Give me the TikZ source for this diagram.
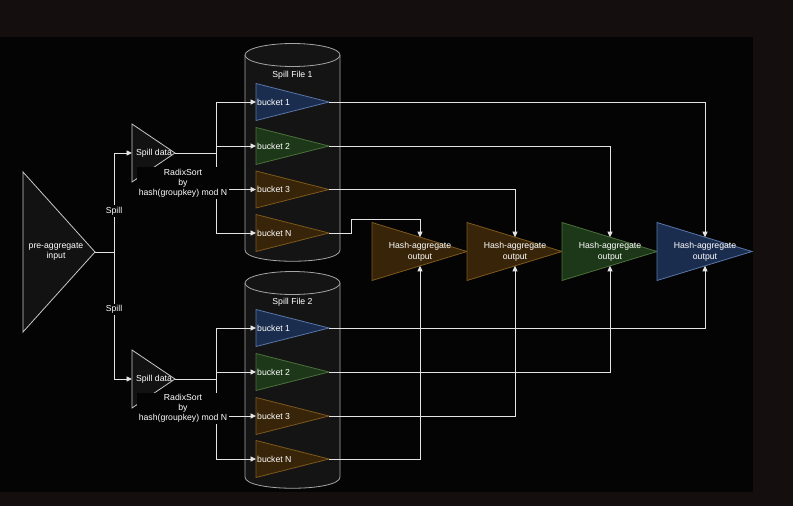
\documentclass[tikz,border=0pt]{standalone}
\usepackage{fontspec}
\setmainfont{Liberation Sans}
\usetikzlibrary{arrows.meta}

\definecolor{outerbg}{RGB}{20,15,14}
\definecolor{innerbg}{RGB}{4,4,4}
\definecolor{ln}{RGB}{228,228,228}
\definecolor{greyfill}{RGB}{18,18,18}
\definecolor{greyline}{RGB}{200,200,200}
\definecolor{cylfill}{RGB}{20,20,20}
\definecolor{cylline}{RGB}{165,165,165}
\definecolor{bluefill}{RGB}{27,45,78}
\definecolor{blueline}{RGB}{88,118,168}
\definecolor{greenfill}{RGB}{28,56,24}
\definecolor{greenline}{RGB}{75,112,58}
\definecolor{orangefill}{RGB}{56,36,8}
\definecolor{orangeline}{RGB}{125,88,28}

\newcommand\mytri[6]{% name, x, y, w, h, style
  \filldraw[#6] (#2,#3-#5/2) -- (#2+#4,#3) -- (#2,#3+#5/2) -- cycle;
  \coordinate (#1w) at (#2,#3);
  \coordinate (#1e) at (#2+#4,#3);
}
\newcommand\mycyl[4]{% x left, x right, y top centre, y bottom centre
  \fill[cylfill] (#1,#3) -- (#1,#4) .. controls (#1,#4+15) and (#2,#4+15) .. (#2,#4) -- (#2,#3) -- cycle;
  \draw[cylline, line width=0.8pt] (#1,#3) -- (#1,#4) .. controls (#1,#4+15) and (#2,#4+15) .. (#2,#4) -- (#2,#3);
  \filldraw[fill=cylfill, draw=cylline, line width=0.8pt] ({(#1+#2)/2},#3) ellipse [x radius={(#2-#1)/2}, y radius=11.5];
}

\begin{document}
\begin{tikzpicture}[x=1pt,y=-1pt,
  txt/.style={text=white, font=\fontsize{8.7}{10}\selectfont, inner sep=0pt, align=center},
  htxt/.style={text=white, font=\fontsize{8.7}{11}\selectfont, inner sep=0pt, align=center},
  btxt/.style={text=white, font=\fontsize{8.7}{10}\selectfont, inner sep=0pt, anchor=west},
  lbl/.style={txt, fill=innerbg, inner sep=1.5pt},
  wire/.style={draw=ln, line width=0.9pt},
  arr/.style={wire, -{Triangle[length=5.5pt,width=5pt]}},
  greytri/.style={fill=greyfill, draw=greyline, line width=0.8pt},
  bluetri/.style={fill=bluefill, draw=blueline, line width=0.8pt},
  greentri/.style={fill=greenfill, draw=greenline, line width=0.8pt},
  orangetri/.style={fill=orangefill, draw=orangeline, line width=0.8pt}]

% background
\fill[outerbg] (0,0) rectangle (793,506);
\fill[innerbg] (0,37) rectangle (753,492);
\useasboundingbox (0,0) rectangle (793,506);

% cylinders
\mycyl{245}{340}{55}{250}
\mycyl{245}{340}{283}{477}
\node[txt] (sf1) at (292.5,75) {Spill File 1};
\node[txt] (sf2) at (292.5,302) {Spill File 2};

% input and spill data
\mytri{pre}{23}{252}{72}{160}{greytri}
\node[txt] (pretxt) at (56,252) {pre-aggregate\\input};
\mytri{sdA}{132}{153}{43}{58}{greytri}
\node[txt] (sdAtxt) at (154,153) {Spill data};
\mytri{sdB}{132}{379}{43}{58}{greytri}
\node[txt] (sdBtxt) at (154,379) {Spill data};

% buckets file 1
\mytri{fAa}{256}{102}{73}{37}{bluetri}
\mytri{fAb}{256}{146}{73}{37}{greentri}
\mytri{fAc}{256}{189.5}{73}{37}{orangetri}
\mytri{fAn}{256}{233}{73}{37}{orangetri}
\node[btxt] (fAatxt) at (257,102) {bucket 1};
\node[btxt] (fAbtxt) at (257,146) {bucket 2};
\node[btxt] (fActxt) at (257,189.5) {bucket 3};
\node[btxt] (fAntxt) at (257,233) {bucket N};

% buckets file 2
\mytri{fBa}{256}{328}{73}{37}{bluetri}
\mytri{fBb}{256}{372}{73}{37}{greentri}
\mytri{fBc}{256}{416}{73}{37}{orangetri}
\mytri{fBn}{256}{459}{73}{37}{orangetri}
\node[btxt] (fBatxt) at (257,328) {bucket 1};
\node[btxt] (fBbtxt) at (257,372) {bucket 2};
\node[btxt] (fBctxt) at (257,416) {bucket 3};
\node[btxt] (fBntxt) at (257,459) {bucket N};

% hash aggregate outputs
\mytri{hA}{372}{251.5}{95}{58}{orangetri}
\mytri{hB}{467}{251.5}{95}{58}{orangetri}
\mytri{hC}{562}{251.5}{95}{58}{greentri}
\mytri{hD}{657}{251.5}{95}{58}{bluetri}
\node[htxt] (hAtxt) at (420,251.5) {Hash-aggregate\\output};
\node[htxt] (hBtxt) at (515,251.5) {Hash-aggregate\\output};
\node[htxt] (hCtxt) at (610,251.5) {Hash-aggregate\\output};
\node[htxt] (hDtxt) at (705,251.5) {Hash-aggregate\\output};
\coordinate (hAt) at (420,237.2);
\coordinate (hBt) at (515,237.2);
\coordinate (hCt) at (610,237.2);
\coordinate (hDt) at (705,237.2);
\coordinate (hAb) at (420,265.8);
\coordinate (hBb) at (515,265.8);
\coordinate (hCb) at (610,265.8);
\coordinate (hDb) at (705,265.8);

% input split
\coordinate (j0) at (114,252);
\draw[wire] (pree) -- (j0);
\draw[arr] (j0) |- (sdAw);
\draw[arr] (j0) |- (sdBw);

% spill data to buckets
\coordinate (jA) at (216,153);
\coordinate (jB) at (216,379);
\draw[wire] (sdAe) -- (jA);
\draw[wire] (sdBe) -- (jB);
\draw[arr] (jA) |- (fAaw);
\draw[arr] (jA) |- (fAbw);
\draw[arr] (jA) |- (fAcw);
\draw[arr] (jA) |- (fAnw);
\draw[arr] (jB) |- (fBaw);
\draw[arr] (jB) |- (fBbw);
\draw[arr] (jB) |- (fBcw);
\draw[arr] (jB) |- (fBnw);

% buckets to hash aggregates
\draw[arr] (fAae) -| (hDt);
\draw[arr] (fAbe) -| (hCt);
\draw[arr] (fAce) -| (hBt);
\draw[arr] (fAne) -- ++(22,0) -- ++(0,-14) -| (hAt);
\draw[arr] (fBae) -| (hDb);
\draw[arr] (fBbe) -| (hCb);
\draw[arr] (fBce) -| (hBb);
\draw[arr] (fBne) -| (hAb);

% labels with background
\node[lbl] (spA) at (114,211) {Spill};
\node[lbl] (spB) at (114,309.5) {Spill};
\node[lbl] (rsA) at (183,183) {RadixSort\\by\\hash(groupkey) mod N};
\node[lbl] (rsB) at (183,408.5) {RadixSort\\by\\hash(groupkey) mod N};
\end{tikzpicture}
\end{document}
